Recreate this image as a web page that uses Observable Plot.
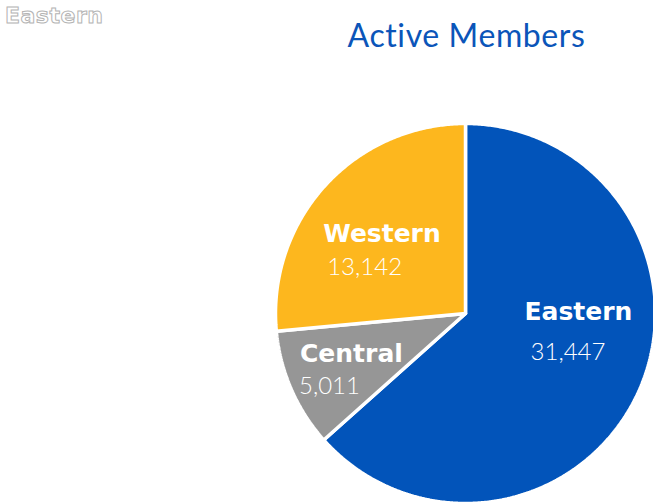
<!DOCTYPE html>
<html>
<head>
<meta charset="utf-8">
<script src="https://cdn.jsdelivr.net/npm/d3@7"></script>
<script src="https://cdn.jsdelivr.net/npm/@observablehq/plot@0.6"></script>
<style>
  html, body { margin: 0; padding: 0; background: #fff; overflow: hidden; }
  #wrap { position: relative; width: 653px; height: 502px; overflow: hidden; }
  #title { position: absolute; left: 280px; width: 373px; top: 15px; text-align: center;
           font-family: "Lato", "DejaVu Sans", sans-serif; font-size: 32px; color: #0B55B9; font-weight: 400; letter-spacing: 0.6px; }
  #tag { position: absolute; left: 5px; top: 3px; font-family: "DejaVu Sans", sans-serif; font-weight: bold;
         font-size: 22px; color: #fff; -webkit-text-stroke: 1px #b4b4b4; letter-spacing: 0.5px; }
  #chart { position: absolute; left: 0; top: 0; }
</style>
</head>
<body>
<div id="wrap">
  <div id="chart"></div>
  <div id="title">Active Members</div>
  <div id="tag">Eastern</div>
</div>
<script>
const regions = ["Eastern", "Central", "Western"];
const members = [31447, 5011, 13142];
const colors = ["#0254BA", "#969696", "#FDB71E"];

// layout constants (label nudges in px relative to slice centroid)
const labelShift = {
  Eastern: {nx: -45, ny: -40, vx: -39, vy: 0},
  Central: {nx: -61, ny: 3, vx: -62, vy: 35},
  Western: {nx: -58, ny: 5, vx: -54, vy: 38}
};

const total = d3.sum(members);
let acc = 0;
const slices = regions.map((r, i) => {
  const a0 = acc / total * 2 * Math.PI;
  acc += members[i];
  const a1 = acc / total * 2 * Math.PI;
  return {region: r, value: members[i], a0, a1, color: colors[i]};
});

// polygon outline points for each slice (angles clockwise from top)
const pts = [];
for (const s of slices) {
  pts.push({region: s.region, x: 0, y: 0});
  const n = Math.max(2, Math.ceil((s.a1 - s.a0) / (Math.PI / 360)));
  for (let k = 0; k <= n; k++) {
    const a = s.a0 + (s.a1 - s.a0) * k / n;
    pts.push({region: s.region, x: Math.sin(a), y: Math.cos(a)});
  }
  pts.push({region: s.region, x: 0, y: 0});
}

const labelR = 0.6;
const labels = slices.map(s => {
  const m = (s.a0 + s.a1) / 2;
  return {...s, x: labelR * Math.sin(m), y: labelR * Math.cos(m)};
});

const fmt = d3.format(",");

const plot = Plot.plot({
  width: 653,
  height: 502,
  margin: 0,
  x: {domain: [-465 / 190, 188 / 190], axis: null},
  y: {domain: [-189 / 190, 313 / 190], axis: null},
  color: {domain: regions, range: colors},
  style: {background: "transparent", overflow: "hidden"},
  marks: [
    Plot.line(pts, {x: "x", y: "y", z: "region", fill: "region", stroke: "white", strokeWidth: 3.5, strokeLinejoin: "miter"}),
    ...labels.map(l => Plot.text([l], {
      x: "x", y: "y", text: d => d.region, textAnchor: "start", lineAnchor: "bottom",
      dx: labelShift[l.region].nx, dy: labelShift[l.region].ny,
      fill: "white", fontSize: 25, fontWeight: "bold", fontFamily: "'DejaVu Sans', sans-serif"
    })),
    ...labels.map(l => Plot.text([l], {
      x: "x", y: "y", text: d => fmt(d.value), textAnchor: "start", lineAnchor: "bottom",
      dx: labelShift[l.region].vx, dy: labelShift[l.region].vy,
      fill: "white", fontSize: 24, fontWeight: "300", fontFamily: "Lato, 'DejaVu Sans', sans-serif"
    }))
  ]
});
document.getElementById("chart").appendChild(plot);
</script>
</body>
</html>
